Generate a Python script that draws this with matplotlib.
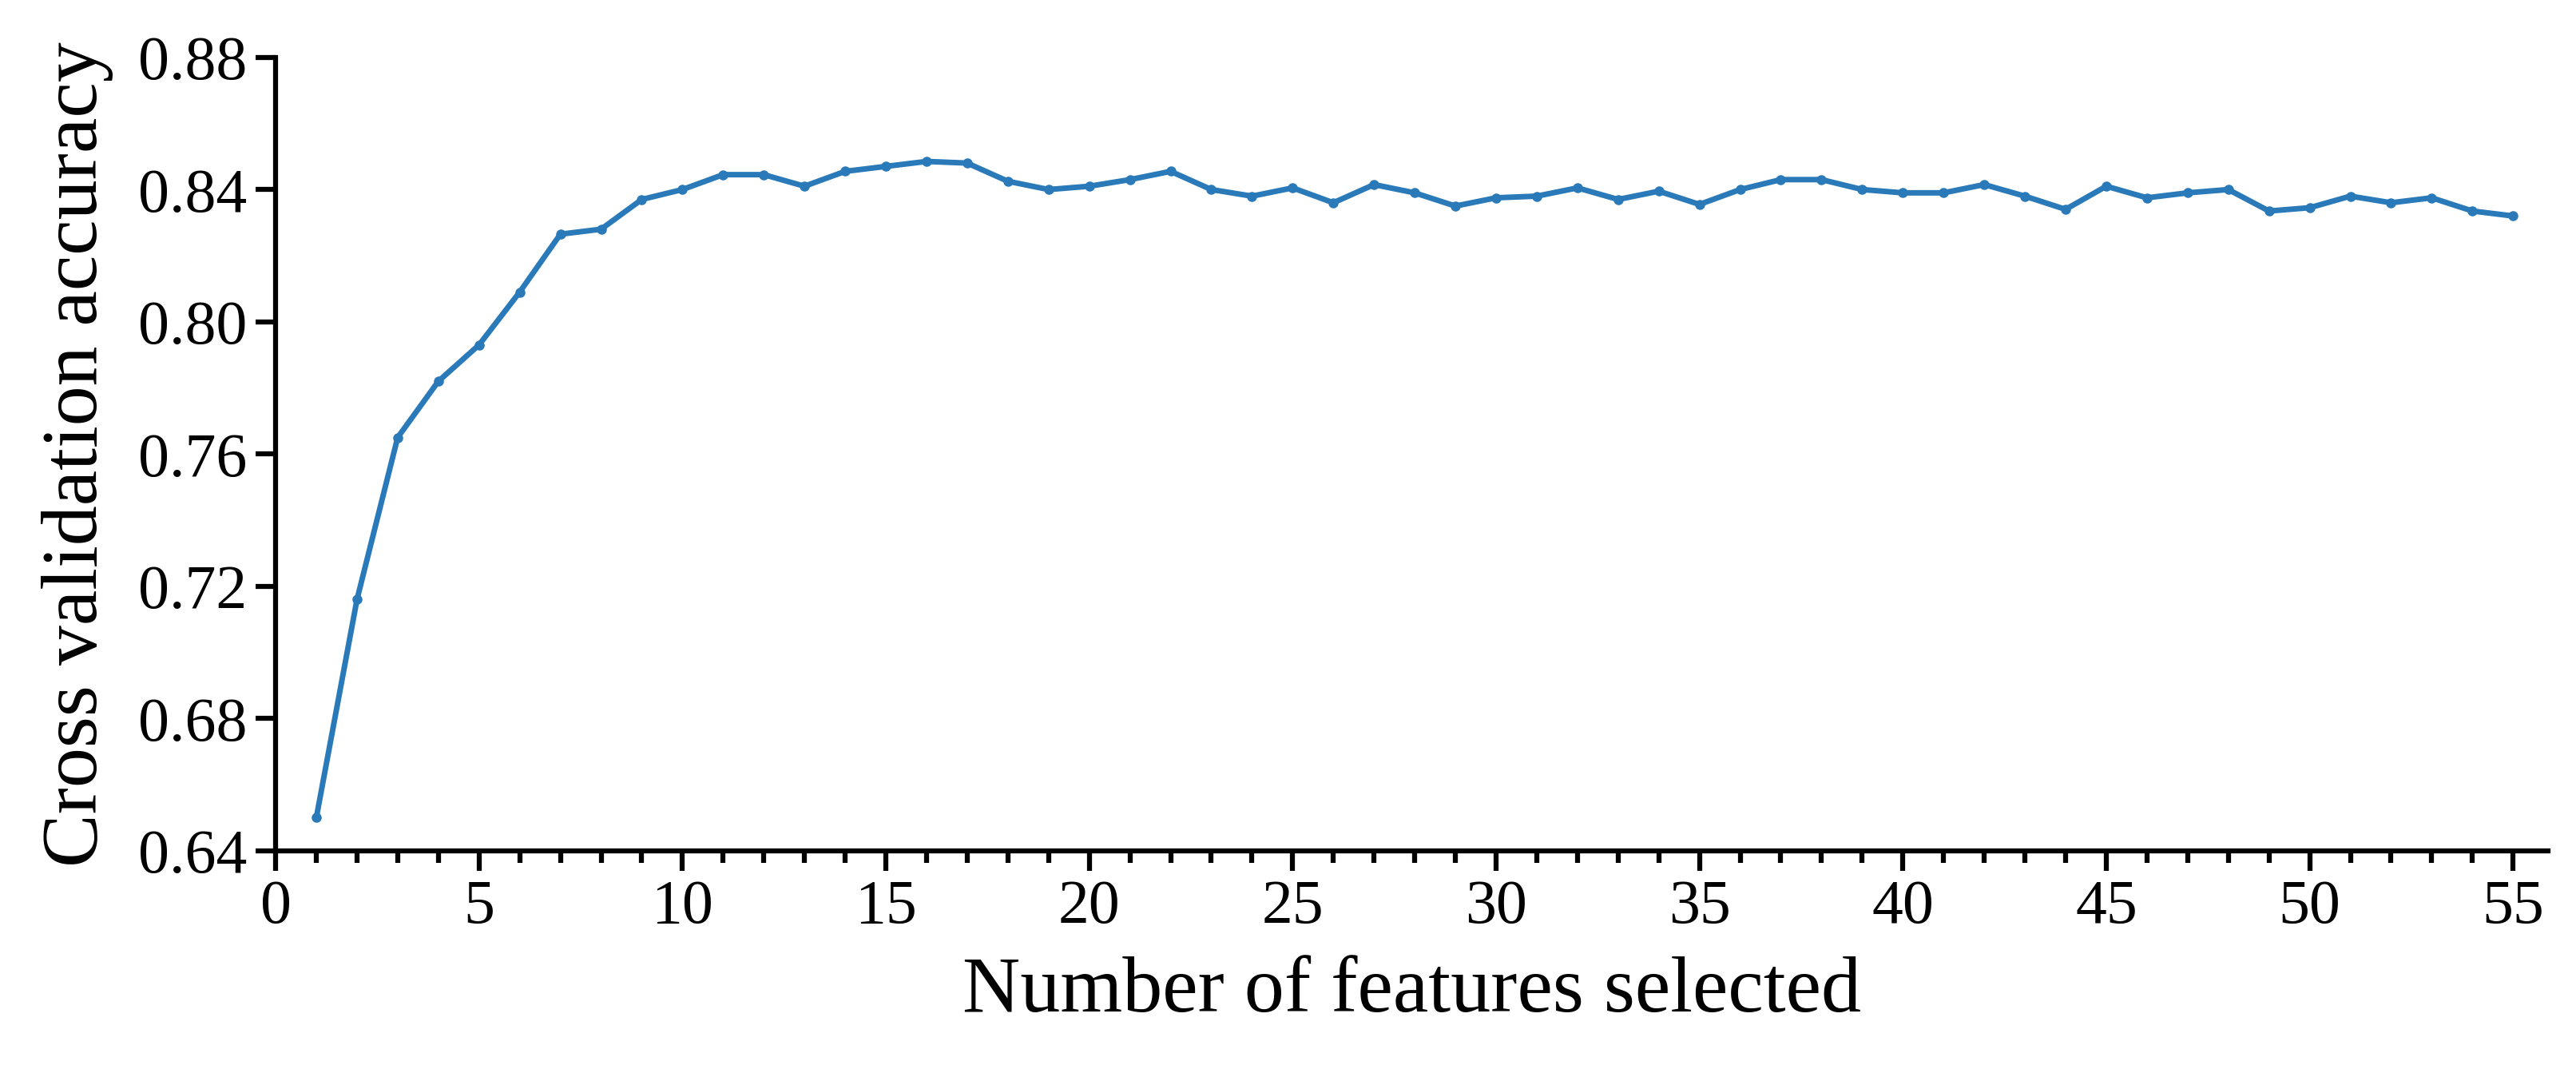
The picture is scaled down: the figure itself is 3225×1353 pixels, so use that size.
import matplotlib
matplotlib.use("Agg")
import matplotlib.pyplot as plt
from matplotlib.ticker import MultipleLocator

features = list(range(1, 56))
accuracy = [0.650, 0.716, 0.765, 0.782, 0.793, 0.809, 0.8265, 0.828, 0.837, 0.840,
            0.8445, 0.8445, 0.841, 0.8455, 0.847, 0.8485, 0.848, 0.8425, 0.840, 0.841,
            0.843, 0.8455, 0.840, 0.838, 0.8405, 0.836, 0.8415, 0.839, 0.835, 0.8375,
            0.838, 0.8405, 0.837, 0.8395, 0.8355, 0.840, 0.843, 0.843, 0.840, 0.839,
            0.839, 0.8415, 0.838, 0.834, 0.841, 0.8375, 0.839, 0.840, 0.8335, 0.8345,
            0.838, 0.836, 0.8375, 0.8335, 0.832]
xticks = [0, 5, 10, 15, 20, 25, 30, 35, 40, 45, 50, 55]
yticks = [0.64, 0.68, 0.72, 0.76, 0.80, 0.84, 0.88]

plt.rcParams['font.family'] = ['Liberation Serif', 'DejaVu Serif']
fig = plt.figure(figsize=(32.25, 13.53), dpi=100)
ax = fig.add_axes([0.107, 0.213, 0.882, 0.734])
ax.plot(features, accuracy, color='#2a7ab9', lw=5, marker='o', ms=8)
ax.set_xlim(0, 55.85)
ax.set_ylim(0.64, 0.88)
ax.set_xticks(xticks)
ax.set_yticks(yticks)
ax.set_yticklabels([f"{v:.2f}" for v in yticks])
ax.xaxis.set_minor_locator(MultipleLocator(1))
for s in ['top', 'right']:
    ax.spines[s].set_visible(False)
for s in ['left', 'bottom']:
    ax.spines[s].set_linewidth(4.5)
ax.tick_params(which='major', direction='out', length=18, width=4.5, labelsize=56, pad=8)
ax.tick_params(which='minor', direction='out', length=11, width=4.5)
ax.set_xlabel('Number of features selected', fontsize=72, labelpad=18)
ax.set_ylabel('Cross validation accuracy', fontsize=72, labelpad=22)
fig.savefig('out.png', dpi=100)
